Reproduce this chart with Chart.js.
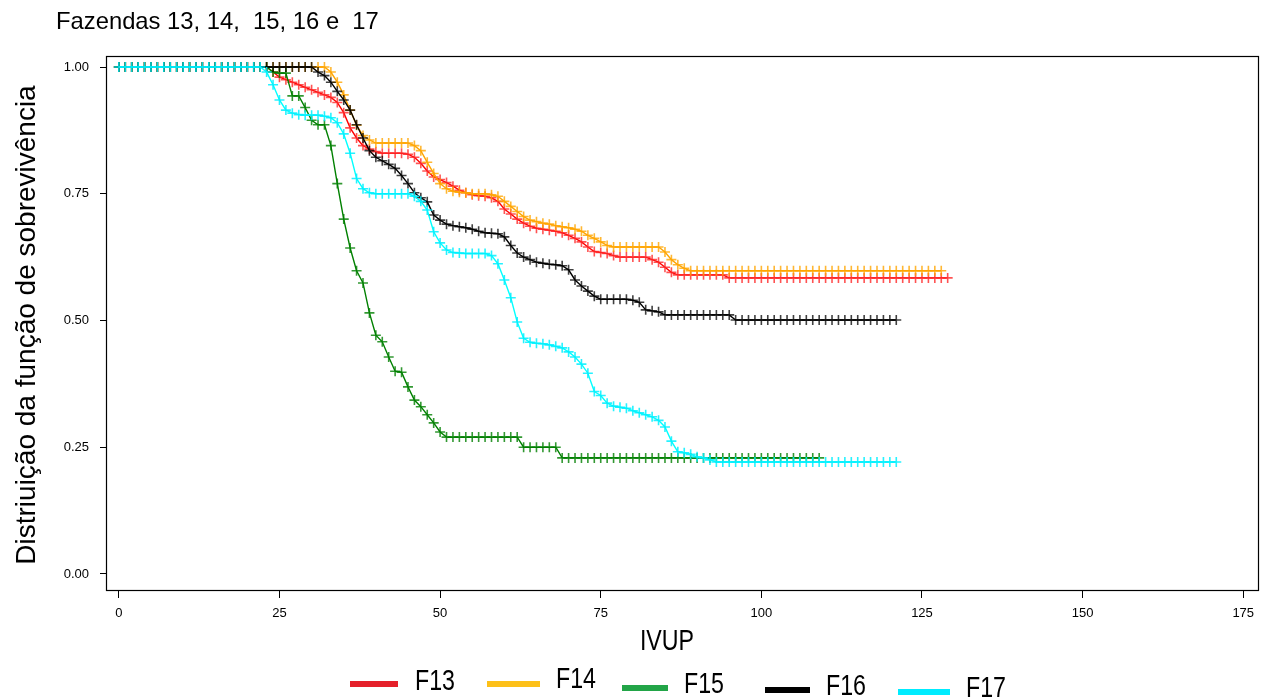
<!DOCTYPE html>
<html>
<head>
<meta charset="utf-8">
<title>Fazendas 13, 14, 15, 16 e 17</title>
<script src="https://cdn.jsdelivr.net/npm/chart.js@4.4.1/dist/chart.umd.min.js"></script>
<style>
  html, body { margin: 0; padding: 0; background: #ffffff; }
  #wrap { width: 1274px; height: 700px; position: relative; }
</style>
</head>
<body>
<div id="wrap"><canvas id="chart" width="1274" height="700"></canvas></div>
<script>
// Kaplan-Meier survival estimates by IVUP (one value per unit, starting at 0)
const f13 = [
  1,1,1,1,1,1,1,1,1,1, 1,1,1,1,1,1,1,1,1,1, 1,1,1,1,
  0.99,0.98,0.975,0.97,0.965,0.96,0.955,0.95,0.945,0.94,0.93,0.91,0.88,0.86,
  0.845,0.838,0.833,0.83,0.83,0.83,0.83,0.828,0.822,0.81,0.795,0.783,
  0.778,0.772,0.765,0.757,0.752,0.748,0.746,0.745,0.742,0.735,
  0.72,0.71,0.70,0.692,0.686,0.682,0.68,0.678,0.676,0.673,
  0.668,0.662,0.655,0.645,0.636,0.634,0.632,0.628,0.625,0.625,
  0.625,0.625,0.625,0.62,0.615,0.605,0.595,0.59,0.59,0.59,
  0.59,0.59,0.59,0.59,0.59,
  0.584,0.584,0.584,0.584,0.584,0.584,0.584,0.584,0.584,0.584,
  0.584,0.584,0.584,0.584,0.584,0.584,0.584,0.584,0.584,0.584,
  0.584,0.584,0.584,0.584,0.584,0.584,0.584,0.584,0.584,0.584,
  0.584,0.584,0.584,0.584,0.584
];
const f14 = [
  1,1,1,1,1,1,1,1,1,1, 1,1,1,1,1,1,1,1,1,1, 1,1,1,1,1,1,1,1,1,1, 1,1,1,
  0.99,0.97,0.945,0.915,0.885,0.865,0.856,0.85,
  0.85,0.85,0.85,0.85,0.85,
  0.845,0.835,0.812,0.79,0.77,0.76,0.755,0.753,0.752,0.75,0.75,0.75,
  0.748,0.745,0.735,0.725,0.715,0.705,0.698,0.695,0.692,0.69,0.687,0.685,
  0.683,0.68,0.676,0.668,0.662,0.655,0.648,
  0.645,0.645,0.645,0.645,0.645,0.645,0.645,0.645,
  0.635,0.62,0.61,0.603,
  0.598,0.598,0.598,0.598,0.598,0.598,0.598,0.598,0.598,0.598,
  0.598,0.598,0.598,0.598,0.598,0.598,0.598,0.598,0.598,0.598,
  0.598,0.598,0.598,0.598,0.598,0.598,0.598,0.598,0.598,0.598,
  0.598,0.598,0.598,0.598,0.598,0.598,0.598,0.598,0.598,0.598
];
const f15 = [
  1,1,1,1,1,1,1,1,1,1, 1,1,1,1,1,1,1,1,1,1, 1,1,1,1,
  0.99,0.988,0.988,0.943,0.943,0.92,0.895,0.886,0.886,0.845,
  0.77,0.70,0.643,0.598,0.574,0.515,0.471,0.458,0.428,0.40,
  0.398,0.369,0.343,0.33,0.314,0.298,0.28,0.27,
  0.27,0.27,0.27,0.27,0.27,0.27,0.27,0.27,0.27,0.27,0.27,
  0.25,0.25,0.25,0.25,0.25,0.25,
  0.229,0.229,0.229,0.229,0.229,0.229,0.229,0.229,0.229,0.229,
  0.229,0.229,0.229,0.229,0.229,0.229,0.229,0.229,0.229,0.229,
  0.229,0.229,0.229,0.229,0.229,0.229,0.229,0.229,0.229,0.229,
  0.229,0.229,0.229,0.229,0.229,0.229,0.229,0.229,0.229,0.229,
  0.229
];
const f16 = [
  1,1,1,1,1,1,1,1,1,1, 1,1,1,1,1,1,1,1,1,1, 1,1,1,1,1,1,1,1,1,1, 1,
  0.99,0.983,0.97,0.952,0.935,0.915,0.886,0.86,0.835,0.822,
  0.815,0.808,0.80,0.786,0.77,0.752,0.742,0.734,0.708,0.698,
  0.69,0.687,0.685,0.683,0.68,0.676,0.673,0.672,0.671,0.665,
  0.648,0.633,0.625,0.62,0.615,0.613,0.611,0.61,0.608,0.60,
  0.58,0.568,0.558,0.548,0.542,0.542,0.542,0.542,0.542,
  0.54,0.536,0.521,0.519,0.517,0.511,
  0.511,0.511,0.511,0.511,0.511,0.511,0.511,0.511,0.511,0.511,
  0.501,0.501,0.501,0.501,0.501,0.501,0.501,0.501,0.501,0.501,
  0.501,0.501,0.501,0.501,0.501,0.501,0.501,0.501,0.501,0.501,
  0.501,0.501,0.501,0.501,0.501,0.501
];
const f17 = [
  1,1,1,1,1,1,1,1,1,1, 1,1,1,1,1,1,1,1,1,1, 1,1,1,
  0.99,0.965,0.935,0.915,0.909,0.906,0.905,0.905,0.905,0.903,0.90,
  0.89,0.868,0.83,0.78,0.76,0.752,0.75,
  0.75,0.75,0.75,0.75,0.75,
  0.745,0.735,0.718,0.675,0.653,0.639,0.634,0.633,
  0.632,0.632,0.632,0.632,
  0.628,0.612,0.58,0.545,0.497,0.465,0.457,0.455,0.454,0.452,0.449,0.446,
  0.438,0.428,0.414,0.396,0.36,0.352,0.337,0.331,0.329,0.327,
  0.322,0.318,0.314,0.31,0.303,0.29,0.262,0.241,0.239,0.236,0.231,0.229,0.225,
  0.221,0.221,0.221,0.221,0.221,0.221,0.221,0.221,0.221,0.221,
  0.221,0.221,0.221,0.221,0.221,0.221,0.221,0.221,0.221,0.221,
  0.221,0.221,0.221,0.221,0.221,0.221,0.221,0.221,0.221
];

const seriesNames = ['F13', 'F14', 'F15', 'F16', 'F17'];
const seriesValues = [f13, f14, f15, f16, f17];
const xTickValues = [0, 25, 50, 75, 100, 125, 150, 175];
const yTickValues = [0, 0.25, 0.5, 0.75, 1];

const chartTitle = 'Fazendas 13, 14,  15, 16 e  17';
const xAxisTitle = 'IVUP';
const yAxisTitle = 'Distriuição da função de sobrevivência';

// line colour, censor-mark colour, legend swatch colour
const lineColors   = ['#ff0000', '#ffa500', '#008000', '#000000', '#00ffff'];
const markColors   = ['rgba(255,40,40,0.8)', 'rgba(255,165,0,0.8)', 'rgba(0,128,0,0.8)', 'rgba(0,0,0,0.75)', 'rgba(0,240,255,0.85)'];
const legendColors = ['#e5202a', '#fdc018', '#22a548', '#000000', '#00ecff'];

const sansFont = '"Liberation Sans", Arial, sans-serif';

const datasets = seriesValues.map((vals, k) => ({
  label: seriesNames[k],
  data: vals.map((y, i) => ({ x: i, y: y })),
  borderColor: lineColors[k],
  backgroundColor: lineColors[k],
  borderWidth: 1.4,
  tension: 0,
  fill: false,
  pointStyle: 'cross',
  pointRadius: 5,
  pointHoverRadius: 5,
  pointBorderWidth: 1.6,
  pointBorderColor: markColors[k],
  order: seriesValues.length - 1 - k
}));

// narrow text: regular sans squeezed horizontally
function narrowText(ctx, text, x, y, size, align) {
  ctx.save();
  ctx.font = size + 'px ' + sansFont;
  const squeeze = 0.8;
  const w = ctx.measureText(text).width * squeeze;
  let left = x;
  if (align === 'center') left = x - w / 2;
  ctx.translate(left, y);
  ctx.scale(squeeze, 1);
  ctx.textAlign = 'left';
  ctx.fillText(text, 0, 0);
  ctx.restore();
}

// frame around the plot, titles and the legend row under the axis
const decorations = {
  id: 'decorations',
  afterDraw(chart) {
    const ctx = chart.ctx;
    const a = chart.chartArea;
    ctx.save();
    ctx.strokeStyle = '#000';
    ctx.lineWidth = 1.2;
    ctx.strokeRect(Math.round(a.left) + 0.5, Math.round(a.top) + 0.5,
                   Math.round(a.right - a.left), Math.round(a.bottom - a.top));

    ctx.fillStyle = '#000';
    ctx.textBaseline = 'alphabetic';
    ctx.textAlign = 'left';
    ctx.font = '23.8px ' + sansFont;
    ctx.fillText(chartTitle, 56, 29);

    narrowText(ctx, xAxisTitle, 667, 650, 29, 'center');

    ctx.save();
    ctx.translate(35, 325);
    ctx.rotate(-Math.PI / 2);
    ctx.textAlign = 'center';
    ctx.font = '28px ' + sansFont;
    ctx.fillText(yAxisTitle, 0, 0);
    ctx.restore();

    const legendItems = [
      { x1: 350, x2: 398, ly: 684, tx: 415, ty: 690 },
      { x1: 487, x2: 540, ly: 684, tx: 556, ty: 688 },
      { x1: 622, x2: 668, ly: 688, tx: 684, ty: 693 },
      { x1: 765, x2: 810, ly: 690, tx: 826, ty: 695 },
      { x1: 898, x2: 950, ly: 692, tx: 966, ty: 697 }
    ];
    legendItems.forEach((it, k) => {
      ctx.fillStyle = legendColors[k];
      ctx.fillRect(it.x1, it.ly - 3, it.x2 - it.x1, 6);
      ctx.fillStyle = '#000';
      narrowText(ctx, seriesNames[k], it.tx, it.ty, 29, 'left');
    });
    ctx.restore();
  }
};

new Chart(document.getElementById('chart'), {
  type: 'line',
  data: { datasets: datasets },
  plugins: [decorations],
  options: {
    responsive: false,
    animation: false,
    devicePixelRatio: 1,
    layout: { padding: { top: 56, right: 16, left: 0, bottom: 0 } },
    plugins: {
      legend: { display: false },
      title: { display: false },
      tooltip: { enabled: false }
    },
    scales: {
      x: {
        type: 'linear',
        min: -2,
        max: 177.3,
        afterBuildTicks(scale) { scale.ticks = xTickValues.map(v => ({ value: v })); },
        afterFit(scale) { scale.height = 110; },
        border: { display: false },
        grid: { drawOnChartArea: false, drawTicks: true, tickLength: 8, color: '#000', tickColor: '#000' },
        ticks: { color: '#000', font: { family: sansFont, size: 13 }, padding: 8, maxRotation: 0,
                 callback: v => String(v) }
      },
      y: {
        type: 'linear',
        min: -0.0316,
        max: 1.0217,
        afterBuildTicks(scale) { scale.ticks = yTickValues.map(v => ({ value: v })); },
        afterFit(scale) { scale.width = 106; },
        border: { display: false },
        grid: { drawOnChartArea: false, drawTicks: true, tickLength: 6, color: '#000', tickColor: '#000' },
        ticks: { color: '#000', font: { family: sansFont, size: 13 }, padding: 11,
                 callback: v => Number(v).toFixed(2) }
      }
    }
  }
});
</script>
</body>
</html>
